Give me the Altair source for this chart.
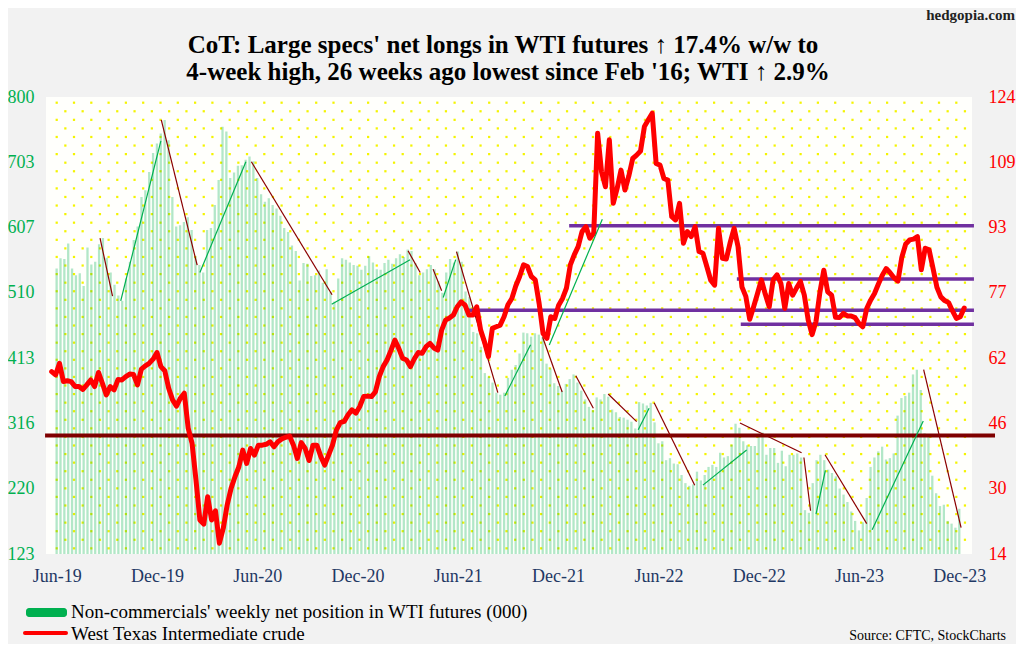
import altair as alt
import pandas as pd

START = "2019-06-25"

# Non-commercials' weekly net position in WTI futures (000), weekly from Jun 25 2019
net_longs = [
    546, 561, 560, 583, 546, 536, 539, 520, 577, 552,
    556, 582, 591, 562, 540, 522, 506, 498, 531, 556,
    588, 608, 652, 662, 689, 717, 731, 746, 766, 736,
    652, 608, 610, 615, 622, 603, 564, 551, 540, 603,
    606, 640, 677, 756, 749, 680, 688, 698, 699, 707,
    712, 705, 680, 656, 645, 650, 640, 635, 624, 606,
    600, 580, 572, 528, 554, 553, 535, 536, 543, 525,
    545, 512, 497, 531, 561, 559, 555, 551, 550, 544,
    550, 564, 555, 545, 544, 554, 559, 553, 561, 567,
    563, 574, 572, 554, 536, 540, 545, 551, 545, 527,
    510, 540, 560, 555, 571, 556, 512, 504, 452, 450,
    430, 391, 386, 377, 362, 359, 362, 384, 396, 403,
    420, 451, 450, 445, 450, 448, 445, 405, 398, 376,
    372, 365, 375, 382, 389, 377, 365, 352, 341, 336,
    355, 352, 360, 356, 337, 333, 326, 325, 322, 319,
    309, 348, 346, 343, 347, 318, 287, 290, 262, 265,
    257, 256, 240, 228, 224, 226, 245, 232, 240, 252,
    255, 252, 273, 266, 268, 285, 316, 310, 290, 284,
    283, 283, 301, 303, 270, 280, 280, 258, 276, 253,
    270, 270, 272, 266, 188, 184, 228, 262, 270, 262,
    248, 243, 238, 220, 211, 200, 186, 172, 158, 170,
    206, 252, 266, 275, 282, 263, 265, 272, 328, 354,
    357, 362, 389, 396, 366, 302, 300, 239, 213, 194,
    196, 172, 168, 162, 190,
]

# West Texas Intermediate crude ($/bbl), same weeks
wti = [
    57.9, 57.1, 59.9, 55.5, 55.7, 55.5, 54.3, 54.3, 53.6, 54.7,
    55.9, 54.3, 57.7, 55.1, 52.3, 54.3, 53.5, 56.0, 55.9, 56.7,
    57.3, 57.2, 54.7, 58.5, 59.3, 59.9, 60.9, 62.5, 59.1, 58.1,
    53.9, 51.1, 49.6, 51.5, 52.7, 44.3, 40.6, 31.8, 22.2, 21.2,
    27.8, 22.2, 24.4, 16.6, 20.2, 25.8, 29.8, 32.6, 35.0, 39.0,
    35.8, 39.4, 37.8, 40.2, 40.2, 40.4, 41.0, 39.8, 41.0, 41.7,
    42.1, 42.4, 40.2, 37.0, 40.8, 39.4, 36.5, 40.2, 40.2, 37.5,
    35.4, 37.8, 40.2, 43.8, 45.6, 45.9, 47.5, 48.7, 47.9, 49.5,
    51.9, 52.0, 51.9, 53.0, 56.7, 59.1, 60.7, 63.0, 65.5, 63.5,
    61.1, 60.7, 59.1, 61.0, 62.5, 62.3, 63.9, 64.7, 63.6, 63.1,
    67.9, 70.3, 70.8, 71.5, 73.5, 74.7, 73.9, 71.5, 71.5, 73.5,
    67.9, 65.0, 61.5, 68.3, 68.7, 69.1, 71.1, 74.0, 75.5, 78.5,
    80.8, 83.6, 83.2, 80.8, 80.0, 74.3, 67.1, 65.9, 71.1, 70.7,
    73.9, 75.5, 78.0, 83.6, 86.0, 88.0, 91.6, 92.8, 90.0, 91.2,
    115.3, 106.0, 102.4, 113.7, 98.4, 102.0, 106.4, 101.6, 105.0, 109.2,
    110.0, 111.0, 116.9, 118.5, 120.1, 108.0, 107.6, 104.4, 104.0, 95.2,
    94.4, 98.4, 88.8, 91.6, 90.4, 92.8, 86.8, 86.4, 83.2, 79.9,
    78.7, 92.4, 85.2, 85.0, 89.0, 92.4, 88.0, 78.3, 76.0, 70.5,
    73.5, 76.7, 80.0, 76.5, 73.5, 80.0, 81.2, 79.1, 73.1, 79.1,
    76.3, 78.0, 79.6, 76.3, 70.3, 66.8, 70.0, 77.0, 82.3, 77.1,
    76.3, 71.0, 70.9, 71.9, 71.3, 71.3, 70.9, 69.5, 68.7, 73.1,
    75.1, 76.7, 79.0, 81.1, 82.7, 81.7, 80.5, 79.7, 85.4, 88.6,
    89.6, 89.8, 90.4, 82.4, 87.6, 87.2, 82.8, 78.2, 75.9, 75.0,
    74.5, 72.5, 70.7, 71.1, 73.2,
]
assert len(net_longs) == 235 and len(wti) == 235

# Hand-drawn trend lines on the net-position bars (week offset from START, level in 000)
tr_start_wk = [12.4, 17.7, 28.1, 38.0, 51.2, 71.8, 91.4, 97.8, 100.4, 103.8, 116.2, 125.9,
               134.4, 142.7, 150.4, 154.5, 167.0, 176.5, 192.9, 196.0, 198.3, 210.4, 223.6]
tr_start_val = [591, 498, 766, 540, 704, 493, 572, 545, 503, 571, 357, 444,
                387, 360, 307, 347, 225, 317, 266, 182, 270, 159, 396]
tr_end_wk = [15.6, 28.0, 37.3, 49.8, 71.9, 91.9, 94.5, 100.0, 103.6, 114.4, 122.8, 130.9,
             138.9, 150.0, 153.2, 164.9, 178.2, 192.3, 194.6, 198.4, 209.0, 223.5, 233.2]
tr_end_val = [505, 735, 551, 704, 507, 559, 540, 513, 559, 362, 433, 363,
              339, 319, 339, 225, 277, 273, 187, 247, 168, 320, 162]
tr_kind = ["down", "up", "down", "up", "down", "up", "down", "down", "up", "down", "up", "down",
           "down", "down", "up", "down", "up", "down", "down", "up", "down", "up", "down"]

# WTI trend line (right axis)
wti_tr_wk = [127.6, 141.2]
wti_tr_val = [64.3, 94.6]

# WTI horizontal levels (purple) and long-run level (maroon)
purple_level = [93.0, 80.2, 72.7, 69.3]
purple_start_wk = [132.7, 175.7, 106.8, 176.7]
purple_end_wk = 236.5
maroon_level = 42.5
maroon_wk = [-1.7, 241.9]

left_labels = ["123", "220", "316", "413", "510", "607", "703", "800"]
right_labels = ["14", "30", "46", "62", "77", "93", "109", "124"]
x_label_wk = [0, 26, 52, 78, 104, 130, 156, 182, 208, 234]

title_lines = ["CoT: Large specs' net longs in WTI futures \u2191 17.4% w/w to",
               "4-week high, 26 weeks ago lowest since Feb '16; WTI \u2191 2.9%"]
legend_bar = "Non-commercials' weekly net position in WTI futures (000)"
legend_line = "West Texas Intermediate crude"
source_text = "Source: CFTC, StockCharts"
site_text = "hedgopia.com"

# ---------------------------------------------------------------------------
FONT = "Liberation Serif"
PW, PH = 926, 457
GREEN = "#00B050"
RED = "#FF0000"
MAROON = "#7F0000"
PURPLE = "#7030A0"


def wk(w):
    return int((pd.Timestamp(START) + pd.Timedelta(days=w * 7)).value // 10**6)


dates = pd.date_range(START, periods=len(wti), freq="7D").strftime("%Y-%m-%d").tolist()
df = pd.DataFrame({"date": dates, "net": net_longs, "wti": wti})

xscale = alt.Scale(type="utc", domain=[wk(-1.46), wk(236.0)])
lscale = alt.Scale(domain=[123, 800], nice=False, zero=False)
rscale = alt.Scale(domain=[14, 124], nice=False, zero=False)

left_ticks = [123 + k * 677 / 7 for k in range(8)]
right_ticks = [14 + k * 110 / 7 for k in range(8)]
left_expr = "[" + ",".join("'%s'" % s for s in left_labels) + "][round((datum.value-123)/(677/7))]"
right_expr = "[" + ",".join("'%s'" % s for s in right_labels) + "][round((datum.value-14)/(110/7))]"

xnone = alt.X("x:T", scale=xscale, axis=None)

# background dot texture of the plot area
dots = alt.Chart(alt.sequence(0, 54 * 54, as_="k")).transform_calculate(
    r="floor(datum.k / 54)", c="datum.k % 54"
).transform_calculate(
    px="datum.c * 17.3 + (datum.r % 2) * 8.65 + 10.7",
    py="datum.r * 8.57 + 5.7",
).transform_filter("datum.px < 924 && datum.py < 455").mark_square(
    size=5, color="#F4F400", opacity=1
).encode(
    x=alt.X("px:Q", scale=alt.Scale(domain=[0, PW], nice=False, zero=False), axis=None),
    y=alt.Y("py:Q", scale=alt.Scale(domain=[0, PH], nice=False, zero=False, reverse=True), axis=None),
)

bars = alt.Chart(df).mark_bar(size=2.3, color=GREEN, opacity=0.3).encode(
    x=alt.X("date:T", scale=xscale,
            axis=alt.Axis(values=[wk(w) for w in x_label_wk], format="%b-%y", title=None,
                          labelColor="#1F3864", labelFontSize=18, labelFont=FONT,
                          labelPadding=13, labelFlush=False, labelOverlap=False,
                          ticks=False, domain=False, grid=False)),
    y=alt.Y("net:Q", scale=lscale,
            axis=alt.Axis(values=left_ticks, labelExpr=left_expr, title=None, orient="left",
                          labelColor=GREEN, labelFontSize=18, labelFont=FONT, labelPadding=12,
                          ticks=False, domain=False, grid=False)),
    y2=alt.datum(123),
)

maroon_df = pd.DataFrame({"x": [wk(maroon_wk[0])], "x2": [wk(maroon_wk[1])], "y": [maroon_level]})
maroon = alt.Chart(maroon_df).mark_rule(color=MAROON, strokeWidth=4).encode(
    x=xnone, x2="x2:T", y=alt.Y("y:Q", scale=rscale, axis=None)
)

purple_df = pd.DataFrame({
    "x": [wk(w) for w in purple_start_wk],
    "x2": [wk(purple_end_wk)] * len(purple_level),
    "y": purple_level,
})
purple = alt.Chart(purple_df).mark_rule(color=PURPLE, strokeWidth=3.5).encode(
    x=xnone, x2="x2:T", y=alt.Y("y:Q", scale=rscale, axis=None)
)

tr_rows = []
for i in range(len(tr_start_wk)):
    col = "#8B0000" if tr_kind[i] == "down" else GREEN
    tr_rows.append({"seg": i, "x": wk(tr_start_wk[i]), "v": tr_start_val[i], "col": col})
    tr_rows.append({"seg": i, "x": wk(tr_end_wk[i]), "v": tr_end_val[i], "col": col})
trends = alt.Chart(pd.DataFrame(tr_rows)).mark_line(strokeWidth=1.2).encode(
    x=xnone, y=alt.Y("v:Q", scale=lscale, axis=None),
    detail="seg:N", color=alt.Color("col:N", scale=None),
)

wline = alt.Chart(df).mark_line(color=RED, strokeWidth=5, strokeJoin="round", strokeCap="round").encode(
    x=alt.X("date:T", scale=xscale, axis=None),
    y=alt.Y("wti:Q", scale=rscale,
            axis=alt.Axis(values=right_ticks, labelExpr=right_expr, title=None, orient="right",
                          labelColor=RED, labelFontSize=18, labelFont=FONT, labelPadding=16,
                          ticks=False, domain=False, grid=False)),
)

wtr_df = pd.DataFrame({"x": [wk(w) for w in wti_tr_wk], "v": wti_tr_val})
wtrend = alt.Chart(wtr_df).mark_line(color=GREEN, strokeWidth=1.2).encode(
    x=xnone, y=alt.Y("v:Q", scale=rscale, axis=None)
)

one = alt.Data(values=[{"a": 1}])
leg_rect = alt.Chart(one).mark_rect(color="#00B050", cornerRadius=3).encode(
    x=alt.value(-20), x2=alt.value(21), y=alt.value(511), y2=alt.value(520)
)
leg_line = alt.Chart(one).mark_rule(color=RED, strokeWidth=4, strokeCap="round").encode(
    x=alt.value(-21), x2=alt.value(20), y=alt.value(536)
)
leg_t1 = alt.Chart(one).mark_text(font=FONT, fontSize=19, align="left", baseline="middle", color="black").encode(
    x=alt.value(25), y=alt.value(515), text=alt.value(legend_bar)
)
leg_t2 = alt.Chart(one).mark_text(font=FONT, fontSize=19, align="left", baseline="middle", color="black").encode(
    x=alt.value(25), y=alt.value(537), text=alt.value(legend_line)
)
src = alt.Chart(one).mark_text(font=FONT, fontSize=14, align="right", baseline="middle", color="black").encode(
    x=alt.value(960), y=alt.value(539), text=alt.value(source_text)
)
site = alt.Chart(one).mark_text(font=FONT, fontSize=15, fontWeight="bold", align="right", baseline="middle", color="#222222").encode(
    x=alt.value(969), y=alt.value(-82), text=alt.value(site_text)
)
title1 = alt.Chart(one).mark_text(font=FONT, fontSize=25, fontWeight="bold", align="center", baseline="middle", color="black").encode(
    x=alt.value(457), y=alt.value(-52), text=alt.value(title_lines[0])
)
title2 = alt.Chart(one).mark_text(font=FONT, fontSize=25, fontWeight="bold", align="center", baseline="middle", color="black").encode(
    x=alt.value(462), y=alt.value(-25), text=alt.value(title_lines[1])
)

chart = alt.layer(
    dots, bars, maroon, purple, trends, wline, wtrend,
    leg_rect, leg_line, leg_t1, leg_t2, src, site, title1, title2,
).resolve_scale(
    x="independent", y="independent"
).properties(
    width=PW, height=PH,
    autosize=alt.AutoSizeParams(type="none"),
    padding={"left": 38, "top": 89, "right": 44, "bottom": 90},
    background="#F2F2F2",
).configure_view(fill="#FFFFFC", stroke=None)

chart.save("out.html", embed_options={"renderer": "svg", "actions": False})
